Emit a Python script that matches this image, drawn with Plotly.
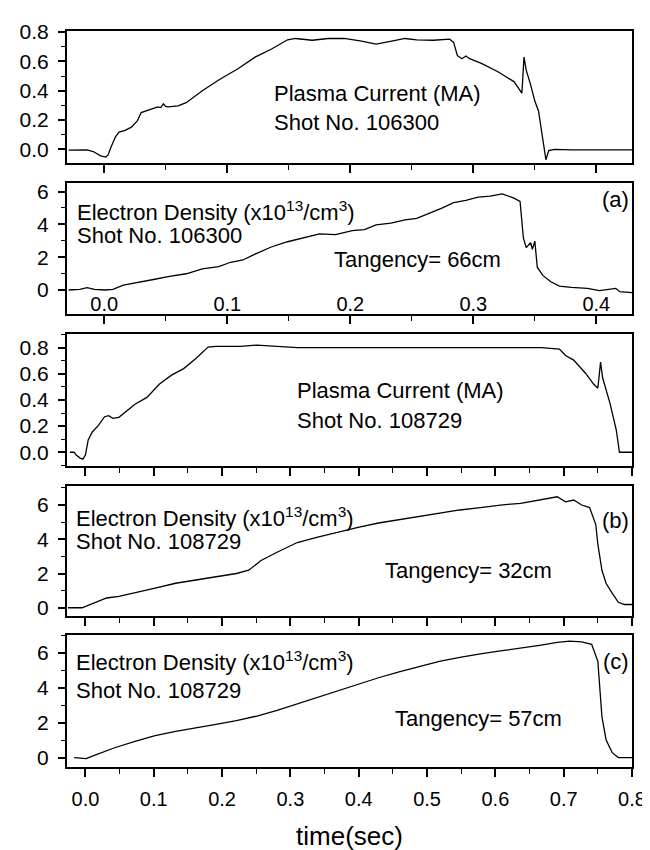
import plotly.graph_objects as go

# ---------------- data ----------------
# Panel 1: plasma current, shot 106300
ip1_t = [-0.029, -0.014, -0.009, -0.003, 0.001, 0.003, 0.0056, 0.009, 0.012, 0.017, 0.022, 0.027,
         0.030, 0.034, 0.039, 0.0435, 0.046, 0.048, 0.050, 0.052, 0.060, 0.0666, 0.0797, 0.093, 0.109,
         0.1226, 0.136, 0.149, 0.1555, 0.169, 0.182, 0.195, 0.208, 0.221, 0.2346, 0.2445, 0.254,
         0.2675, 0.2807, 0.284, 0.287, 0.2906, 0.294, 0.297, 0.307, 0.320, 0.333, 0.3395, 0.3412,
         0.343, 0.3466, 0.350, 0.353, 0.355, 0.3565, 0.359, 0.3613, 0.366, 0.38, 0.40, 0.429]
ip1_v = [-0.005, -0.004, -0.015, -0.044, -0.053, -0.040, 0.018, 0.084, 0.118, 0.129, 0.151, 0.196,
         0.251, 0.262, 0.273, 0.289, 0.285, 0.311, 0.292, 0.289, 0.296, 0.318, 0.400, 0.473, 0.551,
         0.629, 0.684, 0.747, 0.756, 0.744, 0.756, 0.756, 0.740, 0.718, 0.740, 0.756, 0.747,
         0.744, 0.751, 0.729, 0.640, 0.618, 0.636, 0.618, 0.584, 0.529, 0.462, 0.384, 0.629,
         0.540, 0.440, 0.329, 0.262, 0.151, 0.062, -0.071, -0.009, 0.000, -0.004, -0.002, -0.004]

# Panel 2: electron density, shot 106300, tangency 66 cm
ne1_t = [-0.029, -0.020, -0.014, -0.008, 0.0007, 0.007, 0.0155, 0.027, 0.040, 0.053, 0.0666, 0.0797,
         0.093, 0.1028, 0.1127, 0.1226, 0.1357, 0.149, 0.162, 0.175, 0.188, 0.2016, 0.2115, 0.221,
         0.233, 0.2445, 0.254, 0.264, 0.274, 0.284, 0.294, 0.3038, 0.3137, 0.3235, 0.333, 0.338,
         0.3407, 0.343, 0.3466, 0.348, 0.350, 0.352, 0.3565, 0.363, 0.370, 0.3796, 0.3927, 0.4026,
         0.4158, 0.419, 0.429]
ne1_v = [0.00, 0.04, 0.14, 0.04, 0.00, 0.04, 0.30, 0.44, 0.64, 0.83, 0.99, 1.29,
         1.43, 1.69, 1.83, 2.19, 2.62, 2.94, 3.18, 3.42, 3.38, 3.62, 3.68, 3.97,
         4.07, 4.27, 4.37, 4.67, 4.97, 5.32, 5.46, 5.66, 5.72, 5.86, 5.60, 5.40,
         3.18, 2.58, 2.88, 2.48, 2.98, 1.39, 0.89, 0.50, 0.24, 0.16, 0.10, -0.04,
         0.10, -0.10, -0.16]

# Panel 3: plasma current, shot 108729
ip2_t = [-0.0226, -0.0166, -0.014, -0.0077, -0.0036, 0.000, 0.004, 0.010, 0.019, 0.028, 0.034, 0.040,
         0.049, 0.0577, 0.0725, 0.090, 0.108, 0.126, 0.1438, 0.1617, 0.1795, 0.191, 0.227, 0.251,
         0.2746, 0.310, 0.370, 0.429, 0.4886, 0.548, 0.6075, 0.667, 0.6937, 0.7027, 0.7146, 0.732,
         0.744, 0.750, 0.754, 0.757, 0.768, 0.777, 0.7816, 0.800]
ip2_v = [0.000, 0.000, -0.020, -0.045, -0.053, -0.020, 0.093, 0.155, 0.205, 0.272, 0.280, 0.260,
         0.267, 0.305, 0.367, 0.420, 0.520, 0.590, 0.640, 0.717, 0.805, 0.810, 0.810, 0.820,
         0.810, 0.800, 0.800, 0.800, 0.800, 0.800, 0.800, 0.800, 0.790, 0.740, 0.705, 0.605,
         0.520, 0.490, 0.690, 0.570, 0.370, 0.170, 0.000, 0.000]

# Panel 4: electron density, shot 108729, tangency 32 cm
ne2_t = [-0.0256, -0.005, 0.013, 0.031, 0.049, 0.0725, 0.102, 0.132, 0.1617, 0.191, 0.221, 0.239,
         0.257, 0.2805, 0.310, 0.340, 0.370, 0.399, 0.429, 0.459, 0.4886, 0.518, 0.548, 0.578,
         0.6075, 0.637, 0.667, 0.6906, 0.7027, 0.7146, 0.7264, 0.738, 0.747, 0.750, 0.756, 0.762,
         0.771, 0.780, 0.789, 0.800]
ne2_v = [0.00, 0.00, 0.29, 0.57, 0.67, 0.86, 1.14, 1.43, 1.62, 1.81, 2.00, 2.19,
         2.76, 3.24, 3.81, 4.13, 4.44, 4.70, 4.95, 5.14, 5.33, 5.52, 5.71, 5.85,
         6.00, 6.10, 6.29, 6.48, 6.19, 6.29, 6.00, 5.85, 4.86, 3.71, 2.19, 1.43,
         0.86, 0.32, 0.19, 0.19]

# Panel 5: electron density, shot 108729, tangency 57 cm
ne3_t = [-0.0166, 0.001, 0.013, 0.0428, 0.0725, 0.102, 0.132, 0.1617, 0.191, 0.221, 0.251, 0.2805,
         0.310, 0.340, 0.370, 0.399, 0.429, 0.459, 0.4886, 0.518, 0.548, 0.578, 0.6075, 0.637,
         0.667, 0.6906, 0.7086, 0.7264, 0.741, 0.750, 0.753, 0.756, 0.762, 0.771, 0.780, 0.800]
ne3_v = [0.00, -0.06, 0.13, 0.56, 0.93, 1.25, 1.49, 1.68, 1.90, 2.11, 2.37, 2.70,
         3.07, 3.48, 3.82, 4.19, 4.56, 4.90, 5.22, 5.50, 5.72, 5.93, 6.09, 6.24,
         6.43, 6.58, 6.65, 6.61, 6.47, 5.50, 3.63, 2.33, 1.02, 0.28, 0.00, 0.00]

# ---------------- figure ----------------
FONT = "Liberation Sans, Arial, sans-serif"
YTICKFONT = dict(family=FONT, size=21, color="black")
XTICKFONT = dict(family=FONT, size=20, color="black")
ANNFONT = dict(family=FONT, size=22, color="black")

fig = go.Figure()
series = [(ip1_t, ip1_v), (ne1_t, ne1_v), (ip2_t, ip2_v), (ne2_t, ne2_v), (ne3_t, ne3_v)]
for i, (t, v) in enumerate(series):
    ax = "" if i == 0 else str(i + 1)
    fig.add_trace(go.Scatter(x=t, y=v, mode="lines", line=dict(color="black", width=1.3),
                             xaxis="x" + ax, yaxis="y" + ax, showlegend=False, hoverinfo="skip"))

H_PLOT = 753.0
def dom(top_px, bot_px):
    # px measured from top of the image; bottom of plot area at 768 px
    return [(768 - bot_px) / H_PLOT, (768 - top_px) / H_PLOT]

doms = [dom(15, 150), dom(170, 305), dom(325, 460), dom(480, 614), dom(633, 768)]
yranges = [[-0.093, 0.807], [-1.49, 6.55], [-0.105, 0.905], [-0.51, 7.14], [-0.54, 7.0]]
ydticks = [0.2, 2, 0.2, 2, 2]
yfmts = [".1f", "d", ".1f", "d", "d"]
xranges = [[-0.0303, 0.429], [-0.0303, 0.429], [-0.027, 0.8], [-0.027, 0.8], [-0.027, 0.8]]

axis_common = dict(showline=True, linecolor="black", linewidth=2, mirror=True,
                   showgrid=False, zeroline=False, ticks="outside", tickcolor="black",
                   tickwidth=1.5)

layout = dict(width=650, height=850, paper_bgcolor="white", plot_bgcolor="white",
              margin=dict(l=55, r=15, t=15, b=82), showlegend=False)

for i in range(5):
    ax = "" if i == 0 else str(i + 1)
    yax = dict(axis_common, domain=doms[i], range=yranges[i], dtick=ydticks[i], tick0=0,
               tickformat=yfmts[i], ticklen=7, anchor="x" + ax, tickfont=YTICKFONT,
               ticklabelstandoff=5,
               minor=dict(dtick=ydticks[i] / 2, tick0=0, ticks="outside", ticklen=4,
                          tickcolor="black", tickwidth=1.2))
    xax = dict(axis_common, domain=[0, 1], range=xranges[i], dtick=0.1, tick0=0,
               tickformat=".1f", ticklen=8, anchor="y" + ax, tickfont=XTICKFONT,
               minor=dict(dtick=0.05, tick0=0, ticks="outside", ticklen=5,
                          tickcolor="black", tickwidth=1.2))
    if i in (0, 2, 3):
        xax["showticklabels"] = False
    if i == 1:
        xax["ticklabelposition"] = "inside"
    if i == 4:
        xax["ticklabelstandoff"] = 5
        xax["title"] = dict(text="time(sec)", font=dict(family=FONT, size=26, color="black"),
                            standoff=18)
    layout["xaxis" + ax] = xax
    layout["yaxis" + ax] = yax

fig.update_layout(**layout)

ED = "Electron Density (x10<sup>13</sup>/cm<sup>3</sup>)"
anns = [
    ("x", "y", 0.136, 0.384, "Plasma Current (MA)", "left"),
    ("x", "y", 0.136, 0.184, "Shot No. 106300", "left"),
    ("x2", "y2", -0.024, 4.8, ED, "left"),
    ("x2", "y2", -0.024, 3.3, "Shot No. 106300", "left"),
    ("x2", "y2", 0.185, 1.85, "Tangency= 66cm", "left"),
    ("x2", "y2", 0.428, 5.5, "(a)", "right"),
    ("x3", "y3", 0.307, 0.47, "Plasma Current (MA)", "left"),
    ("x3", "y3", 0.307, 0.245, "Shot No. 108729", "left"),
    ("x4", "y4", -0.0166, 5.3, ED, "left"),
    ("x4", "y4", -0.0166, 3.85, "Shot No. 108729", "left"),
    ("x4", "y4", 0.435, 2.15, "Tangency= 32cm", "left"),
    ("x4", "y4", 0.798, 5.1, "(b)", "right"),
    ("x5", "y5", -0.0166, 5.5, ED, "left"),
    ("x5", "y5", -0.0166, 3.85, "Shot No. 108729", "left"),
    ("x5", "y5", 0.45, 2.25, "Tangency= 57cm", "left"),
    ("x5", "y5", 0.798, 5.5, "(c)", "right"),
]
for xr, yr, x, y, txt, xa in anns:
    fig.add_annotation(xref=xr, yref=yr, x=x, y=y, text=txt, showarrow=False,
                       xanchor=xa, yanchor="middle", font=ANNFONT)

fig.write_html("out.html")
